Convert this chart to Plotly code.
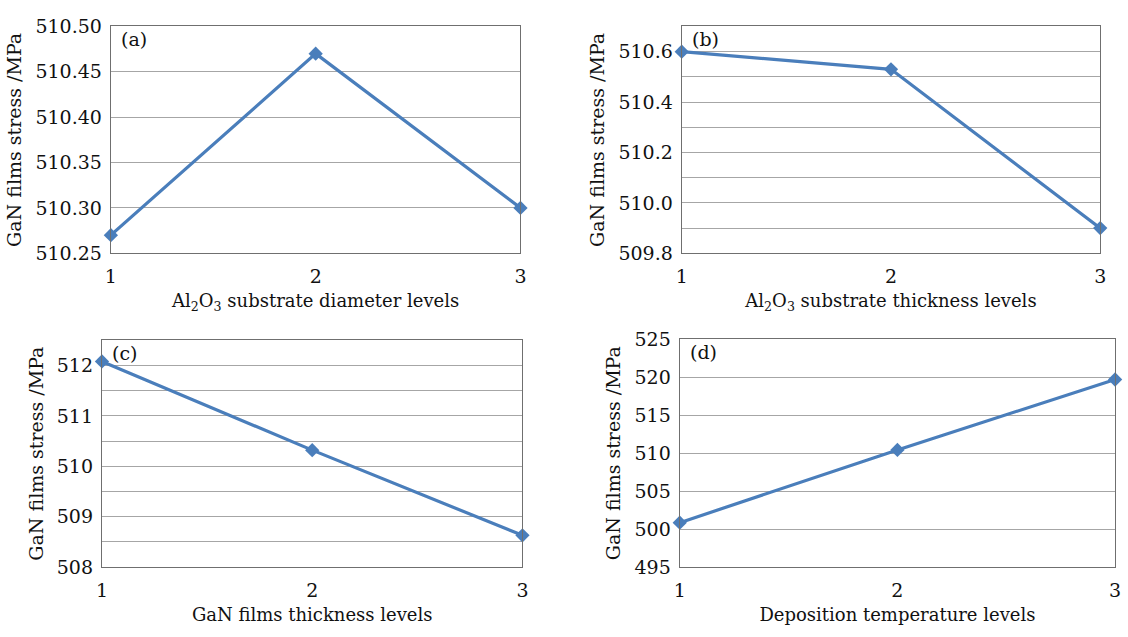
import plotly.graph_objects as go

W, H = 1128, 637

levels = [1, 2, 3]
stress_a = [510.27, 510.47, 510.30]
stress_b = [510.60, 510.53, 509.90]
stress_c = [512.08, 510.32, 508.63]
stress_d = [500.85, 510.43, 519.70]

x_titles = [
    "Al<sub>2</sub>O<sub>3</sub> substrate diameter levels",
    "Al<sub>2</sub>O<sub>3</sub> substrate thickness levels",
    "GaN films thickness levels",
    "Deposition temperature levels",
]
y_title = "GaN films stress /MPa"
panel_labels = ["(a)", "(b)", "(c)", "(d)"]

y_ranges = [[510.25, 510.50], [509.8, 510.7], [508, 512.5], [495, 525]]
y_dticks = [0.05, 0.2, 1, 5]
y_minor = [None, 0.1, 0.5, None]
y_formats = [".2f", ".1f", "d", "d"]

# pixel boxes (left, top, right, bottom)
boxes = [(106, 16, 520, 251), (683, 16, 1106, 251), (97, 341, 522, 576), (681, 340, 1121, 576)]

FONT = "DejaVu Serif"
TXT = "#111111"
LINE = "#4a7ebb"
GRID = "#a6a6a6"
BORDER = "#6f6f6f"

fig = go.Figure()
series = [stress_a, stress_b, stress_c, stress_d]

for i, (ys, box) in enumerate(zip(series, boxes)):
    n = "" if i == 0 else str(i + 1)
    l, t, r, b = box
    fig.add_trace(go.Scatter(
        x=levels, y=ys, mode="lines+markers",
        line=dict(color=LINE, width=3.2),
        marker=dict(symbol="diamond", size=11, color=LINE),
        cliponaxis=False, showlegend=False,
        xaxis="x" + n, yaxis="y" + n,
    ))
    xa = dict(
        domain=[l / W, r / W], range=[1, 3], anchor="y" + n,
        tickvals=levels, ticktext=[str(v) for v in levels],
        showgrid=False, zeroline=False,
        showline=True, linecolor=BORDER, linewidth=1.3, mirror=True,
        ticks="", ticklabelstandoff=6,
        tickfont=dict(family=FONT, size=19, color=TXT),
        title=dict(text=x_titles[i], font=dict(family=FONT, size=18, color=TXT), standoff=8),
    )
    ya = dict(
        domain=[1 - b / H, 1 - t / H], range=y_ranges[i], anchor="x" + n,
        dtick=y_dticks[i], tick0=y_ranges[i][0], tickformat=y_formats[i],
        showgrid=True, gridcolor=GRID, gridwidth=1.2, zeroline=False,
        showline=True, linecolor=BORDER, linewidth=1.3, mirror=True,
        ticks="", ticklabelstandoff=4,
        tickfont=dict(family=FONT, size=19, color=TXT),
        title=dict(text=y_title, font=dict(family=FONT, size=19, color=TXT), standoff=8),
    )
    if y_minor[i] is not None:
        ya["minor"] = dict(dtick=y_minor[i], tick0=y_ranges[i][0], showgrid=True,
                           gridcolor=GRID, gridwidth=1.2, ticks="")
    fig.update_layout(**{"xaxis" + n: xa, "yaxis" + n: ya})
    fig.add_annotation(
        text=panel_labels[i], xref="x" + n + " domain", yref="y" + n + " domain",
        x=0.02, y=1.0, xanchor="left", yanchor="top", showarrow=False,
        font=dict(family=FONT, size=19, color=TXT),
    )

fig.update_layout(
    width=W, height=H, margin=dict(l=0, r=0, t=0, b=0),
    paper_bgcolor="white", plot_bgcolor="white",
)

fig.write_html("out.html")
